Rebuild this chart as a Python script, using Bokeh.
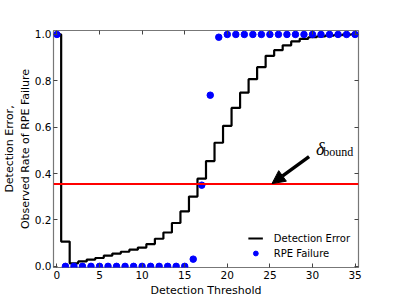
from bokeh.plotting import figure
from bokeh.models import Range1d, LinearAxis, Span, Arrow, NormalHead, Legend, LegendItem, FixedTicker, ColumnDataSource
from bokeh.core.properties import value
from bokeh.embed import file_html
from bokeh.resources import INLINE

# ---- data ----
thresholds = list(range(0, 36))
detection_error = [1.0, 0.107, 0.013, 0.021, 0.029, 0.036, 0.046, 0.055, 0.063, 0.072,
                   0.081, 0.096, 0.119, 0.146, 0.187, 0.237, 0.301, 0.378, 0.454, 0.533,
                   0.606, 0.683, 0.749, 0.807, 0.859, 0.908, 0.932, 0.953, 0.970, 0.981,
                   0.988, 0.992, 0.995, 0.997, 0.999, 1.0]
rpe_failure = [1.0] + [0.0] * 15 + [0.031, 0.35, 0.738, 0.988] + [1.0] * 16
delta_bound = 0.355
arrow_start = (29.6, 0.473)
arrow_end = (25.25, 0.357)
delta_label_pos = (30.4, 0.507)
bound_label_pos = (31.25, 0.493)
x_ticks = [0, 5, 10, 15, 20, 25, 30, 35]
y_ticks = [0.0, 0.2, 0.4, 0.6, 0.8, 1.0]

FONT = "DejaVu Sans"
SPINE = "#777777"

p = figure(width=399, height=299, output_backend="svg", toolbar_location=None,
           x_range=Range1d(-0.4, 35.4), y_range=Range1d(-0.005, 1.017),
           min_border_left=50, min_border_right=41, min_border_top=30, min_border_bottom=31)
p.grid.visible = False
p.outline_line_color = SPINE
p.outline_line_width = 1.2
p.background_fill_color = "white"
p.border_fill_color = "white"

def style_axis(ax, labels=True):
    ax.axis_line_color = None
    ax.major_tick_in = 4
    ax.major_tick_out = 0
    ax.minor_tick_line_color = None
    ax.major_tick_line_color = "#444444"
    ax.major_label_text_font = FONT
    ax.major_label_text_color = "black"
    ax.major_label_text_font_size = "10.5px"
    ax.major_label_standoff = 2 if labels else 0

xa = p.xaxis[0]
ya = p.yaxis[0]
xa.ticker = FixedTicker(ticks=x_ticks)
ya.ticker = FixedTicker(ticks=y_ticks)
style_axis(xa)
style_axis(ya)
xa.major_label_standoff = 3
ya.major_label_overrides = {t: f"{t:.1f}" for t in y_ticks}
xa.axis_label = "Detection Threshold"
ya.axis_label = "Detection Error,\nObserved Rate of RPE Failure"
for ax in (xa, ya):
    ax.axis_label_text_font = FONT
    ax.axis_label_text_font_size = "11px"
    ax.axis_label_text_font_style = "normal"
    ax.axis_label_text_color = "black"
xa.axis_label_standoff = 2
ya.axis_label_standoff = 0

top = LinearAxis(ticker=FixedTicker(ticks=x_ticks))
right = LinearAxis(ticker=FixedTicker(ticks=y_ticks))
style_axis(top, labels=False)
style_axis(right, labels=False)
top.major_label_overrides = {t: "" for t in x_ticks}
right.major_label_overrides = {t: "" for t in y_ticks}
p.add_layout(top, "above")
p.add_layout(right, "right")

src = ColumnDataSource(dict(x=thresholds, err=detection_error, rpe=rpe_failure))
r_err = p.step("x", "err", source=src, mode="center", line_width=2.2, line_color="black")
r_rpe = p.scatter("x", "rpe", source=src, size=6.5, fill_color="#0000ff", line_color="#0000ff")

p.add_layout(Span(location=delta_bound, dimension="width", line_color="#ff0000", line_width=2))

p.add_layout(Arrow(end=NormalHead(size=13, fill_color="black", line_color="black"),
                   x_start=arrow_start[0], y_start=arrow_start[1],
                   x_end=arrow_end[0], y_end=arrow_end[1],
                   line_width=3.5, line_color="black"))

p.text(x=[delta_label_pos[0]], y=[delta_label_pos[1]], text=["δ"],
       text_font=value("Liberation Serif"), text_font_style="italic",
       text_font_size="18px", text_baseline="alphabetic", text_color="black")
p.text(x=[bound_label_pos[0]], y=[bound_label_pos[1]], text=["bound"],
       text_font=value("Liberation Serif"),
       text_font_size="12px", text_baseline="alphabetic", text_color="black")

legend = Legend(items=[LegendItem(label="Detection Error", renderers=[r_err]),
                       LegendItem(label="RPE Failure", renderers=[r_rpe])],
                location="bottom_right")
legend.border_line_alpha = 0
legend.background_fill_alpha = 0
legend.label_text_font = FONT
legend.label_text_font_size = "10px"
legend.label_text_color = "black"
legend.glyph_width = 15
legend.glyph_height = 12
legend.label_standoff = 11
legend.spacing = 3
legend.padding = 2
legend.margin = 6
p.add_layout(legend)

open("out.html", "w").write(file_html(p, INLINE))
